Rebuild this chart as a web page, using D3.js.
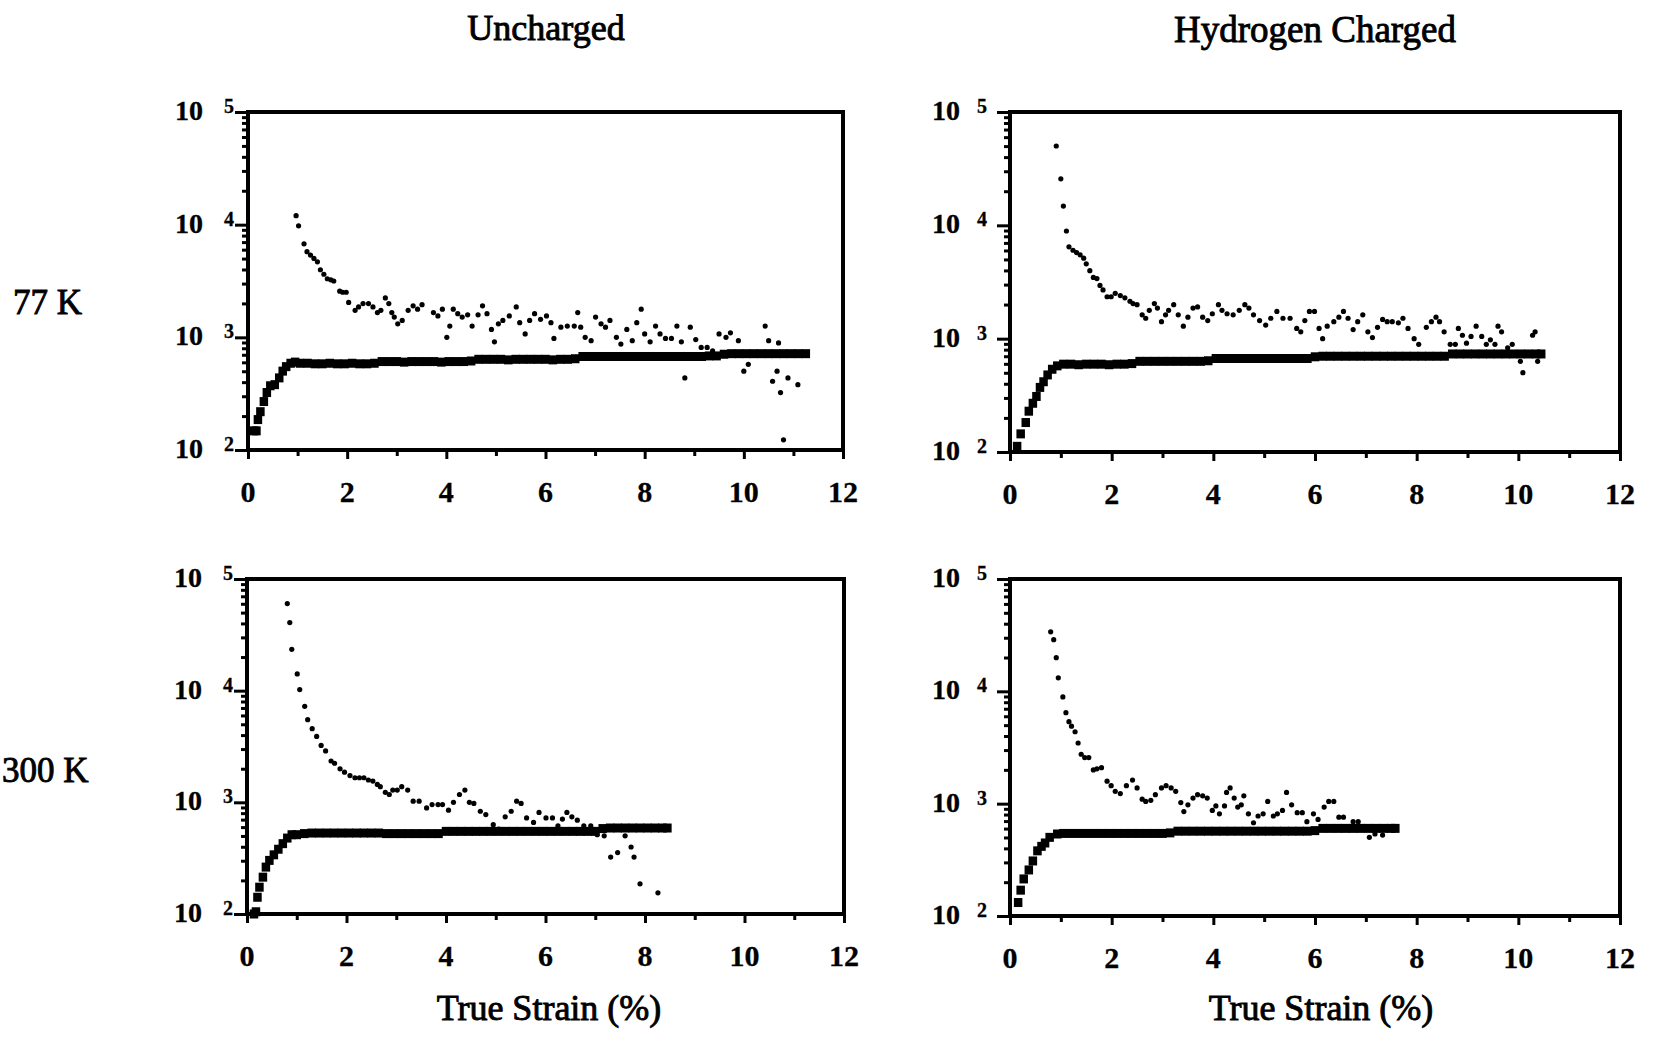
<!DOCTYPE html>
<html><head><meta charset="utf-8">
<script src="https://cdn.jsdelivr.net/npm/d3@7"></script>
<style>
body{margin:0;background:#fff}
svg text{font-family:"Liberation Serif","Times New Roman",serif;fill:#000;stroke:#000;stroke-width:0.3px;font-weight:bold}
svg text.title{font-weight:normal;stroke-width:0.9px}
</style>
</head><body>
<svg id="c" width="1657" height="1037"></svg>
<script>
// ---------- labels / ticks ----------
const columnTitles = ["Uncharged", "Hydrogen Charged"];
const rowTitles = ["77 K", "300 K"];
const xAxisTitle = "True Strain (%)";
const xMajorTicks = [0, 2, 4, 6, 8, 10, 12];
const xMinorTicks = [1, 3, 5, 7, 9, 11];
const yDecadeExponents = [2, 3, 4, 5];

// ---------- data: [true strain %, log10(value)] ----------
const tlSquares = [
[0.12,2.17],[0.17,2.17],[0.20,2.27],[0.25,2.34],[0.32,2.43],[0.38,2.51],[0.45,2.57],[0.54,2.58],[0.63,2.64],[0.70,2.70],[0.77,2.74],[0.86,2.77],[0.95,2.78],
[1.05,2.77],[1.20,2.77],[1.35,2.765],[1.50,2.765],[1.65,2.77],[1.80,2.765],[1.95,2.765],[2.10,2.77],[2.25,2.765],[2.40,2.765],[2.55,2.77],
[2.70,2.785],[2.85,2.785],[3.00,2.785],[3.15,2.78],[3.30,2.785],[3.45,2.785],[3.60,2.785],[3.75,2.785],[3.90,2.78],[4.05,2.785],[4.20,2.785],[4.35,2.785],[4.50,2.79],
[4.65,2.805],[4.80,2.805],[4.95,2.805],[5.10,2.805],[5.25,2.80],[5.40,2.805],[5.55,2.805],[5.70,2.805],[5.85,2.805],[6.00,2.805],[6.15,2.80],[6.30,2.805],[6.45,2.805],[6.60,2.81],
[6.75,2.83],[6.90,2.83],[7.05,2.83],[7.20,2.83],[7.35,2.83],[7.50,2.83],[7.65,2.83],[7.80,2.83],[7.95,2.83],[8.10,2.83],[8.25,2.83],[8.40,2.83],[8.55,2.83],[8.70,2.83],[8.85,2.83],[9.00,2.83],[9.15,2.83],[9.30,2.835],[9.45,2.835],[9.60,2.85],
[9.75,2.855],[9.90,2.855],[10.05,2.855],[10.20,2.855],[10.35,2.855],[10.50,2.855],[10.65,2.855],[10.80,2.855],[10.95,2.855],[11.10,2.855],[11.25,2.855]
];
const tlDots = [
[0.97,4.08],[1.02,3.99],[1.13,3.83],[1.19,3.76],[1.26,3.73],[1.33,3.70],[1.40,3.67],[1.46,3.60],[1.53,3.56],[1.60,3.52],[1.67,3.51],[1.73,3.50],[1.85,3.41],[1.91,3.40],[1.98,3.40],
[2.03,3.31],[2.16,3.24],[2.23,3.27],[2.32,3.30],[2.43,3.30],[2.52,3.27],[2.61,3.22],[2.68,3.24],[2.77,3.35],[2.84,3.30],[2.90,3.22],[2.95,3.18],[3.02,3.12],[3.11,3.15],
[3.23,3.24],[3.33,3.28],[3.42,3.25],[3.51,3.29],[3.74,3.22],[3.83,3.19],[3.92,3.25],[4.01,3.00],[4.07,3.10],[4.14,3.25],[4.23,3.21],[4.32,3.18],[4.43,3.20],[4.52,3.10],
[4.64,3.20],[4.73,3.28],[4.82,3.21],[4.91,3.07],[4.97,2.96],[5.05,3.12],[5.14,3.15],[5.27,3.19],[5.41,3.27],[5.48,3.13],[5.59,3.03],[5.68,3.15],[5.78,3.21],[5.90,3.16],
[6.02,3.19],[6.11,3.13],[6.17,2.99],[6.31,3.09],[6.44,3.10],[6.58,3.10],[6.65,3.22],[6.71,3.09],[6.80,3.00],[6.92,2.97],[7.01,3.18],[7.12,3.12],[7.21,3.09],[7.30,3.15],
[7.43,3.00],[7.52,2.94],[7.64,3.07],[7.75,2.97],[7.84,3.13],[7.93,3.25],[8.00,3.03],[8.11,2.96],[8.22,3.10],[8.31,3.03],[8.42,2.99],[8.54,2.99],[8.65,3.10],[8.74,2.96],
[8.81,2.64],[8.92,3.09],[9.03,2.98],[9.14,2.91],[9.26,2.91],[9.37,2.88],[9.50,3.03],[9.64,3.00],[9.73,3.04],[9.89,2.97],[10.00,2.70],[10.09,2.76],[10.23,2.85],
[10.43,3.10],[10.50,2.97],[10.58,2.61],[10.67,2.70],[10.70,2.95],[10.74,2.51],[10.89,2.64],[11.09,2.58],[10.80,2.09]
];

const trSquares = [
[0.14,2.05],[0.21,2.16],[0.31,2.26],[0.37,2.36],[0.45,2.43],[0.52,2.49],[0.59,2.57],[0.66,2.62],[0.74,2.68],[0.83,2.73],[0.93,2.76],
[1.05,2.775],[1.20,2.775],[1.35,2.77],[1.50,2.775],[1.65,2.775],[1.80,2.775],[1.95,2.77],[2.10,2.775],[2.25,2.775],[2.40,2.78],
[2.55,2.80],[2.70,2.80],[2.85,2.80],[3.00,2.80],[3.15,2.80],[3.30,2.80],[3.45,2.80],[3.60,2.80],[3.75,2.80],[3.90,2.805],
[4.05,2.825],[4.20,2.825],[4.35,2.825],[4.50,2.825],[4.65,2.825],[4.80,2.825],[4.95,2.825],[5.10,2.825],[5.25,2.825],[5.40,2.825],[5.55,2.825],[5.70,2.825],[5.85,2.825],
[6.00,2.84],[6.15,2.845],[6.30,2.845],[6.45,2.845],[6.60,2.845],[6.75,2.845],[6.90,2.845],[7.05,2.845],[7.20,2.845],[7.35,2.845],[7.50,2.845],[7.65,2.845],[7.80,2.845],[7.95,2.845],[8.10,2.845],[8.25,2.845],[8.40,2.845],[8.55,2.845],
[8.70,2.865],[8.85,2.865],[9.00,2.865],[9.15,2.865],[9.30,2.865],[9.45,2.865],[9.60,2.865],[9.75,2.865],[9.90,2.865],[10.05,2.865],[10.20,2.865],[10.35,2.865],[10.45,2.865]
];
const trDots = [
[0.91,4.70],[1.00,4.41],[1.05,4.17],[1.11,3.95],[1.16,3.81],[1.24,3.78],[1.31,3.76],[1.38,3.74],[1.45,3.71],[1.50,3.66],[1.57,3.60],[1.64,3.54],[1.71,3.53],
[1.77,3.47],[1.83,3.43],[1.91,3.37],[1.99,3.37],[2.07,3.40],[2.17,3.38],[2.26,3.36],[2.36,3.33],[2.42,3.31],[2.50,3.30],[2.60,3.21],[2.67,3.18],[2.74,3.25],
[2.84,3.31],[2.90,3.27],[2.98,3.15],[3.06,3.21],[3.12,3.25],[3.22,3.30],[3.31,3.21],[3.41,3.11],[3.50,3.19],[3.60,3.27],[3.69,3.28],[3.79,3.19],[3.89,3.16],
[3.98,3.22],[4.10,3.30],[4.17,3.25],[4.27,3.22],[4.39,3.21],[4.51,3.25],[4.62,3.30],[4.70,3.27],[4.79,3.21],[4.91,3.16],[5.03,3.12],[5.13,3.18],[5.25,3.24],
[5.37,3.18],[5.51,3.18],[5.64,3.09],[5.72,3.06],[5.80,3.16],[5.89,3.24],[5.99,3.24],[6.08,3.09],[6.15,3.00],[6.24,3.11],[6.37,3.15],[6.47,3.19],[6.56,3.24],
[6.65,3.18],[6.75,3.08],[6.84,3.15],[6.94,3.21],[7.04,3.06],[7.13,3.01],[7.23,3.10],[7.33,3.17],[7.42,3.15],[7.52,3.15],[7.64,3.14],[7.73,3.18],[7.83,3.09],
[7.95,3.00],[8.04,2.95],[8.19,3.10],[8.29,3.15],[8.38,3.19],[8.45,3.15],[8.54,3.06],[8.66,2.95],[8.76,2.95],[8.82,3.09],[8.90,3.03],[8.98,2.96],[9.07,3.02],
[9.17,3.11],[9.28,3.02],[9.37,2.95],[9.45,2.99],[9.54,2.95],[9.60,3.11],[9.67,3.06],[9.79,2.92],[9.88,2.95],[10.04,2.80],[10.09,2.70],[10.23,2.86],[10.28,3.03],
[10.33,3.06],[10.38,2.80]
];

const blSquares = [
[0.14,2.00],[0.18,2.02],[0.21,2.15],[0.25,2.24],[0.32,2.33],[0.38,2.42],[0.45,2.48],[0.54,2.53],[0.63,2.58],[0.72,2.63],[0.81,2.68],[0.90,2.71],[1.00,2.71],
[1.15,2.72],[1.30,2.725],[1.45,2.725],[1.60,2.725],[1.75,2.725],[1.90,2.725],[2.05,2.725],[2.20,2.725],[2.35,2.725],[2.50,2.725],[2.65,2.725],[2.80,2.72],[2.95,2.72],[3.10,2.72],[3.25,2.72],[3.40,2.72],[3.55,2.72],[3.70,2.72],[3.85,2.72],
[4.00,2.74],[4.15,2.74],[4.30,2.74],[4.45,2.74],[4.60,2.74],[4.75,2.74],[4.90,2.74],[5.05,2.74],[5.20,2.74],[5.35,2.74],[5.50,2.74],[5.65,2.74],[5.80,2.74],[5.95,2.74],[6.10,2.74],[6.25,2.74],[6.40,2.74],[6.55,2.74],[6.70,2.74],[6.85,2.74],[7.00,2.74],
[7.15,2.765],[7.30,2.77],[7.45,2.77],[7.60,2.77],[7.75,2.77],[7.90,2.77],[8.05,2.77],[8.20,2.77],[8.35,2.77],[8.45,2.77]
];
const blDots = [
[0.81,4.78],[0.86,4.61],[0.90,4.37],[1.01,4.15],[1.06,4.01],[1.16,3.86],[1.22,3.74],[1.31,3.66],[1.40,3.59],[1.49,3.51],[1.58,3.46],[1.69,3.37],[1.76,3.35],
[1.87,3.30],[1.96,3.27],[2.07,3.24],[2.17,3.22],[2.26,3.22],[2.35,3.22],[2.44,3.20],[2.53,3.19],[2.62,3.16],[2.68,3.14],[2.78,3.09],[2.86,3.07],[2.93,3.11],
[3.02,3.11],[3.11,3.14],[3.23,3.11],[3.34,3.01],[3.46,3.01],[3.61,2.95],[3.72,2.98],[3.84,2.98],[3.93,2.98],[4.05,2.93],[4.15,3.00],[4.27,3.07],[4.38,3.11],
[4.47,3.00],[4.56,2.99],[4.69,2.92],[4.80,2.89],[4.95,2.80],[5.06,2.76],[5.19,2.87],[5.31,2.92],[5.42,3.01],[5.51,2.99],[5.62,2.86],[5.76,2.82],[5.87,2.91],
[6.01,2.86],[6.14,2.86],[6.25,2.79],[6.34,2.85],[6.43,2.91],[6.53,2.87],[6.64,2.84],[6.77,2.79],[6.91,2.79],[7.04,2.71],[7.18,2.70],[7.31,2.51],[7.45,2.55],
[7.60,2.70],[7.72,2.60],[7.78,2.51],[7.90,2.27],[8.26,2.19]
];

const brSquares = [
[0.16,2.12],[0.21,2.23],[0.27,2.33],[0.37,2.41],[0.45,2.49],[0.54,2.58],[0.62,2.62],[0.69,2.65],[0.78,2.70],[0.93,2.73],
[1.05,2.735],[1.20,2.735],[1.35,2.735],[1.50,2.735],[1.65,2.735],[1.80,2.735],[1.95,2.735],[2.10,2.735],[2.25,2.735],[2.40,2.735],[2.55,2.735],[2.70,2.735],[2.85,2.735],[3.00,2.735],[3.15,2.74],
[3.30,2.755],[3.45,2.755],[3.60,2.755],[3.75,2.755],[3.90,2.755],[4.05,2.755],[4.20,2.755],[4.35,2.755],[4.50,2.755],[4.65,2.755],[4.80,2.755],[4.95,2.755],[5.10,2.755],[5.25,2.755],[5.40,2.755],[5.55,2.755],[5.70,2.755],[5.85,2.755],[6.00,2.76],
[6.15,2.78],[6.30,2.78],[6.45,2.78],[6.60,2.78],[6.75,2.78],[6.90,2.78],[7.05,2.78],[7.20,2.78],[7.35,2.78],[7.50,2.78],[7.58,2.78]
];
const brDots = [
[0.80,4.53],[0.86,4.46],[0.91,4.30],[0.95,4.12],[1.04,3.95],[1.10,3.81],[1.16,3.73],[1.21,3.69],[1.28,3.64],[1.34,3.54],[1.40,3.44],[1.47,3.41],[1.55,3.41],
[1.64,3.30],[1.71,3.31],[1.80,3.32],[1.91,3.20],[1.99,3.16],[2.07,3.11],[2.17,3.09],[2.29,3.16],[2.41,3.21],[2.50,3.14],[2.60,3.04],[2.67,3.02],[2.77,3.03],
[2.86,3.08],[2.98,3.14],[3.07,3.16],[3.17,3.14],[3.26,3.11],[3.36,3.01],[3.42,2.93],[3.50,2.99],[3.60,3.05],[3.69,3.08],[3.79,3.07],[3.88,3.05],[3.98,2.94],
[4.05,2.98],[4.12,2.91],[4.22,2.98],[4.26,3.10],[4.33,3.14],[4.41,3.05],[4.48,2.97],[4.55,2.99],[4.60,3.07],[4.69,2.91],[4.79,2.83],[4.88,2.89],[4.98,2.91],
[5.07,3.02],[5.18,2.89],[5.26,2.91],[5.36,2.94],[5.44,3.10],[5.54,2.99],[5.65,2.92],[5.75,2.92],[5.84,2.84],[5.97,2.91],[6.06,2.86],[6.18,2.97],[6.27,3.02],
[6.37,3.02],[6.47,2.88],[6.56,2.88],[6.75,2.84],[6.85,2.84],[7.07,2.70],[7.18,2.73],[7.33,2.72]
];

// ---------- layout ----------
const svg = d3.select("#c");
const panels = [
  {sq: tlSquares, dots: tlDots, left: 248, right: 843, top: 112, bottom: 450, lab10: 45, labSup: 24},
  {sq: trSquares, dots: trDots, left: 1010, right: 1620, top: 112, bottom: 452, lab10: 50, labSup: 33},
  {sq: blSquares, dots: blDots, left: 247, right: 844, top: 579, bottom: 914, lab10: 45, labSup: 24},
  {sq: brSquares, dots: brDots, left: 1010, right: 1620, top: 579, bottom: 916, lab10: 50, labSup: 33}
];

panels.forEach(p => {
  const x = d3.scaleLinear().domain([0, 12]).range([p.left, p.right]);
  const y = d3.scaleLog().domain([100, 100000]).range([p.bottom, p.top]);
  const g = svg.append("g");

  // y minor log ticks
  const minor = [];
  yDecadeExponents.slice(0, 3).forEach(e => { for (let k = 2; k <= 9; k++) minor.push(k * Math.pow(10, e)); });
  const yMinorAxis = d3.axisLeft(y).tickValues(minor).tickSize(6).tickFormat("");
  const gy1 = g.append("g").attr("transform", `translate(${p.left},0)`).call(yMinorAxis);
  const yMajorAxis = d3.axisLeft(y).tickValues(yDecadeExponents.map(e => Math.pow(10, e))).tickSize(13).tickFormat("");
  const gy2 = g.append("g").attr("transform", `translate(${p.left},0)`).call(yMajorAxis);

  // x ticks
  const xMajorAxis = d3.axisBottom(x).tickValues(xMajorTicks).tickSize(9).tickFormat("");
  const gx1 = g.append("g").attr("transform", `translate(0,${p.bottom})`).call(xMajorAxis);
  const xMinorAxis = d3.axisBottom(x).tickValues(xMinorTicks).tickSize(6).tickFormat("");
  const gx2 = g.append("g").attr("transform", `translate(0,${p.bottom})`).call(xMinorAxis);

  [gy1, gy2, gx1, gx2].forEach(a => {
    a.select(".domain").remove();
    a.selectAll(".tick line").attr("stroke", "#000").attr("stroke-width", 3);
  });

  // x tick labels
  g.selectAll(".xl").data(xMajorTicks).join("text")
    .attr("x", d => x(d)).attr("y", p.bottom + 52)
    .attr("text-anchor", "middle").attr("font-size", 30)
    .text(d => d);

  // y tick labels 10^n
  yDecadeExponents.forEach(e => {
    const yy = y(Math.pow(10, e));
    g.append("text").attr("x", p.left - p.lab10).attr("y", yy + 8)
      .attr("text-anchor", "end").attr("font-size", 28).text("10");
    g.append("text").attr("x", p.left - p.labSup).attr("y", yy + 1)
      .attr("text-anchor", "start").attr("font-size", 20).text(e);
  });

  // frame
  g.append("rect").attr("x", p.left).attr("y", p.top)
    .attr("width", p.right - p.left).attr("height", p.bottom - p.top)
    .attr("fill", "none").attr("stroke", "#000").attr("stroke-width", 4);

  // squares
  const sw = 8.5, sh = 9;
  g.selectAll(".sq").data(p.sq).join("rect")
    .attr("x", d => x(d[0]) - sw / 2).attr("y", d => y(Math.pow(10, d[1])) - sh / 2)
    .attr("width", sw).attr("height", sh).attr("fill", "#000");

  // dots
  g.selectAll(".dt").data(p.dots).join("circle")
    .attr("cx", d => x(d[0])).attr("cy", d => y(Math.pow(10, d[1])))
    .attr("r", 2.6).attr("fill", "#000");
});

// titles
const T = (x, y, size, anchor, txt) => svg.append("text").attr("class", "title")
  .attr("x", x).attr("y", y).attr("font-size", size).attr("text-anchor", anchor).text(txt);
T(546, 40, 36, "middle", columnTitles[0]);
T(1315, 42, 37, "middle", columnTitles[1]);
T(13, 314, 35, "start", rowTitles[0]);
T(2, 782, 35, "start", rowTitles[1]);
T(549, 1020, 36, "middle", xAxisTitle);
T(1321, 1020, 36, "middle", xAxisTitle);
</script>
</body></html>
